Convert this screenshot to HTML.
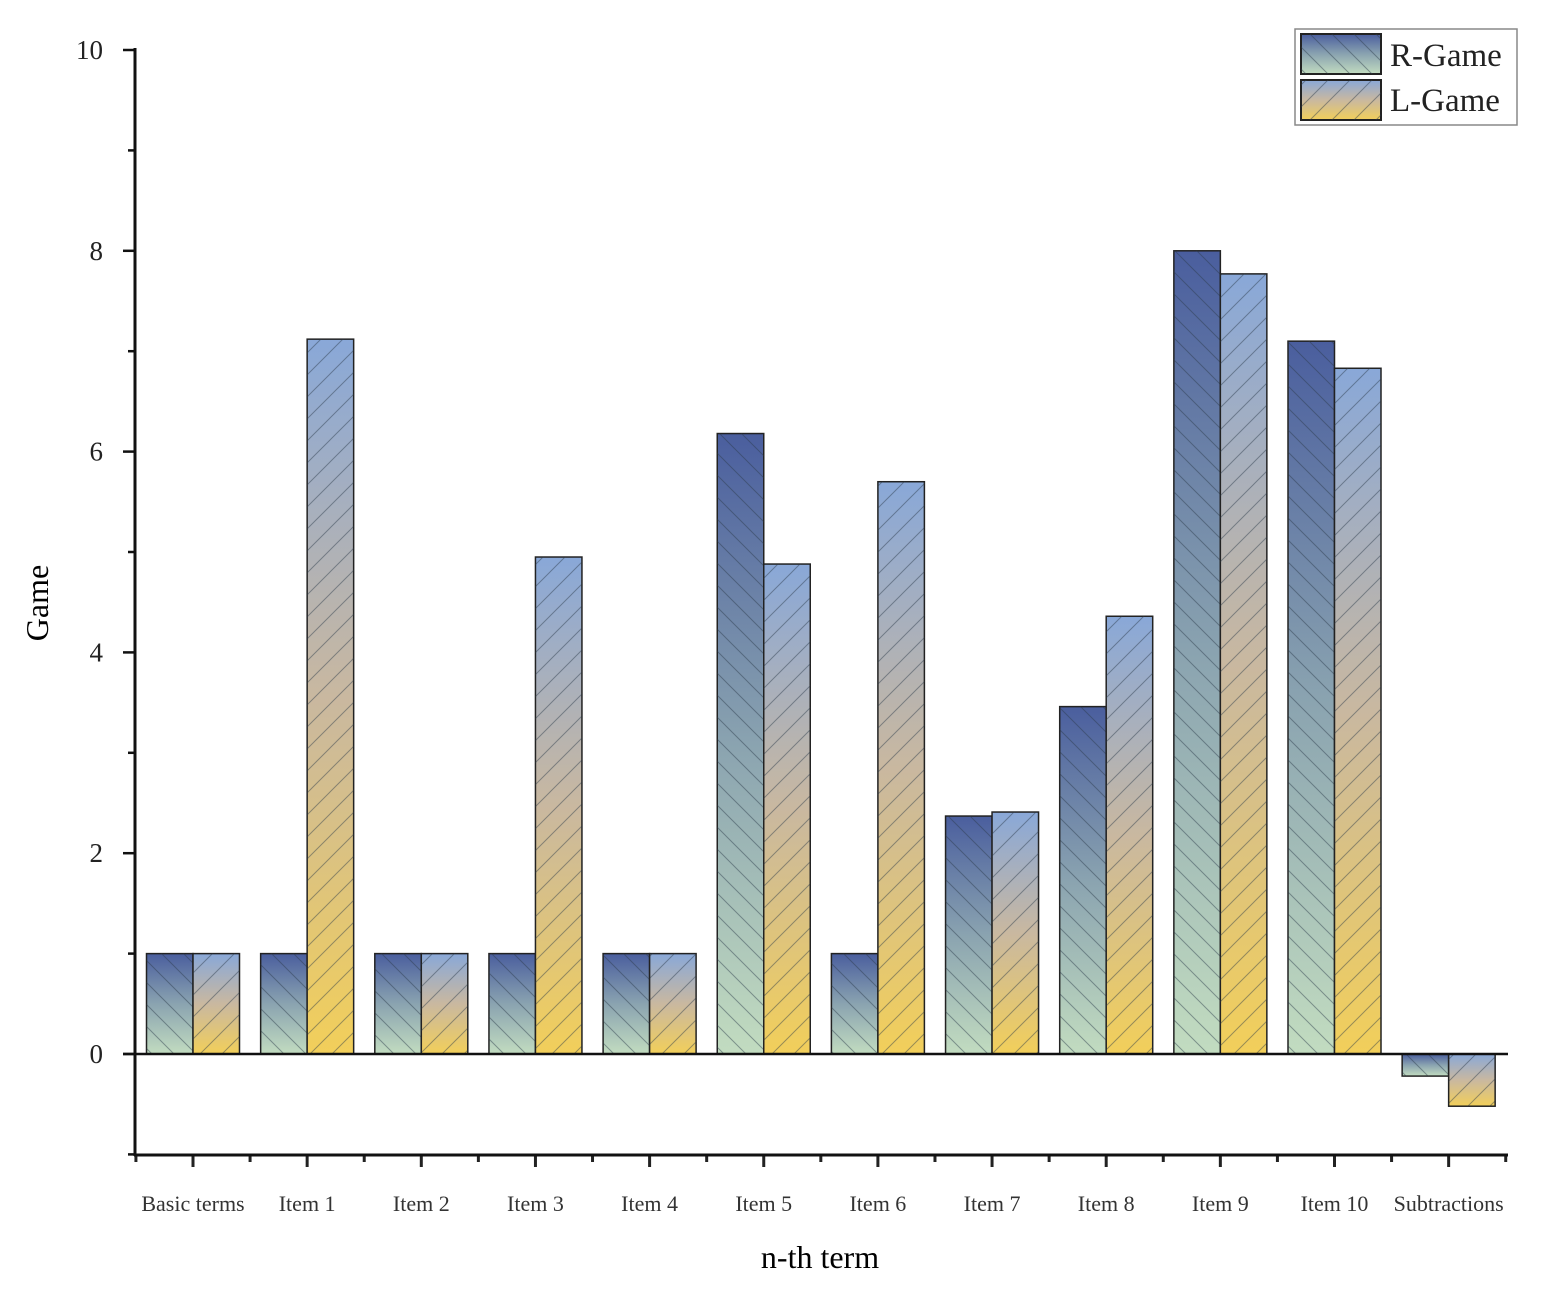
<!DOCTYPE html>
<html><head><meta charset="utf-8"><style>
body{margin:0;background:#fff}
svg{display:block;font-family:"Liberation Serif",serif}
</style></head><body>
<svg id="c" width="1548" height="1295" viewBox="0 0 1548 1295">
<defs>
<linearGradient id="gR" x1="0" y1="0" x2="0" y2="1"><stop offset="0" stop-color="#4a5e9e"/><stop offset="0.5" stop-color="#8aa3b0"/><stop offset="1" stop-color="#c2dcc0"/></linearGradient>
<linearGradient id="gL" x1="0" y1="0" x2="0" y2="1"><stop offset="0" stop-color="#89a8d8"/><stop offset="0.5" stop-color="#c9b8a0"/><stop offset="1" stop-color="#f2cf5a"/></linearGradient>
<pattern id="hR" width="22" height="22" patternUnits="userSpaceOnUse"><path d="M-2,-2 L24,24 M-13,9 L13,35 M9,-13 L35,13" stroke="#2a3a4a" stroke-opacity="0.45" stroke-width="1"/></pattern>
<pattern id="hL" width="22" height="22" patternUnits="userSpaceOnUse"><path d="M-2,24 L24,-2 M-13,13 L13,-13 M9,35 L35,9" stroke="#2a3a4a" stroke-opacity="0.45" stroke-width="1"/></pattern>
</defs>
<g id="bars"></g>
<g id="axes"></g>
<text x="820" y="1268" font-size="32" text-anchor="middle">n-th term</text>
<text x="48" y="603" font-size="32" text-anchor="middle" transform="rotate(-90 48 603)">Game</text>
<g>
<rect x="1295" y="29" width="222" height="96" fill="#fff" stroke="#888" stroke-width="1.5"/>
<g>
<rect x="1301" y="34" width="80" height="40" fill="url(#gR)" stroke="#222" stroke-width="2"/>
<rect x="1301" y="34" width="80" height="40" fill="url(#hR)"/>
<text x="1390" y="66" font-size="33" fill="#222">R-Game</text></g>
<g>
<rect x="1301" y="80" width="80" height="40" fill="url(#gL)" stroke="#222" stroke-width="2"/>
<rect x="1301" y="80" width="80" height="40" fill="url(#hL)"/>
<text x="1390" y="111" font-size="33" fill="#222">L-Game</text></g>
</g>
</svg>
<script>
const categories=["Basic terms","Item 1","Item 2","Item 3","Item 4","Item 5","Item 6","Item 7","Item 8","Item 9","Item 10","Subtractions"];
const rGame=[1,1,1,1,1,6.18,1,2.37,3.46,8.0,7.1,-0.22];
const lGame=[1,7.12,1,4.95,1,4.88,5.7,2.41,4.36,7.77,6.83,-0.52];
const yTicks=[0,2,4,6,8,10];
const NS="http://www.w3.org/2000/svg";
const X0=135,X1=1508,Y0=1054,PPU=100.4,STEP=114.15,FIRST=193;
function xc(i){return FIRST+i*STEP;}
function y(v){return Y0-v*PPU;}
function mk(t,a,p){const e=document.createElementNS(NS,t);for(const k in a)e.setAttribute(k,a[k]);p.appendChild(e);return e;}
const bars=document.getElementById('bars'),axes=document.getElementById('axes');
const BW=46.5;
function drawBar(v,x,grad,hatch,name){
  const top=Math.min(y(v),Y0),h=Math.abs(y(v)-Y0);
  const g=mk('g',{},bars);
  
  
  mk('rect',{x:x,y:top,width:BW,height:h,fill:grad,stroke:'#222','stroke-width':1.5},g);
  mk('rect',{x:x,y:top,width:BW,height:h,fill:hatch},g);
}
categories.forEach((c,i)=>{
  drawBar(rGame[i],xc(i)-BW,'url(#gR)','url(#hR)','bar-r-game-'+i);
  drawBar(lGame[i],xc(i),'url(#gL)','url(#hL)','bar-l-game-'+i);
  const t=mk('text',{x:xc(i),y:1211,'font-size':22,'text-anchor':'middle',fill:'#333'},axes);
  t.textContent=c;
  
  
  mk('line',{x1:xc(i),y1:1155,x2:xc(i),y2:1167,stroke:'#222','stroke-width':3},axes);
  mk('line',{x1:xc(i)+STEP/2,y1:1155,x2:xc(i)+STEP/2,y2:1162,stroke:'#222','stroke-width':3},axes);
});
mk('line',{x1:xc(0)-STEP/2,y1:1155,x2:xc(0)-STEP/2,y2:1162,stroke:'#222','stroke-width':3},axes);
const zl=mk('line',{x1:X0-12,y1:Y0,x2:X1,y2:Y0,stroke:'#111','stroke-width':2.5},axes);


const ya=mk('line',{x1:X0,y1:48,x2:X0,y2:1156,stroke:'#111','stroke-width':3},axes);


const xa=mk('line',{x1:X0-1,y1:1155,x2:X1,y2:1155,stroke:'#111','stroke-width':3},axes);


for(let v=-1;v<=10;v++){
  const major=yTicks.indexOf(v)>=0;
  mk('line',{x1:X0-(major?12:7),y1:y(v),x2:X0,y2:y(v),stroke:'#111','stroke-width':2.5},axes);
}
yTicks.forEach(v=>{
  const t=mk('text',{x:103,y:y(v)+9,'font-size':27,'text-anchor':'end',fill:'#222'},axes);
  t.textContent=v;
  
  
});
</script>
</body></html>
